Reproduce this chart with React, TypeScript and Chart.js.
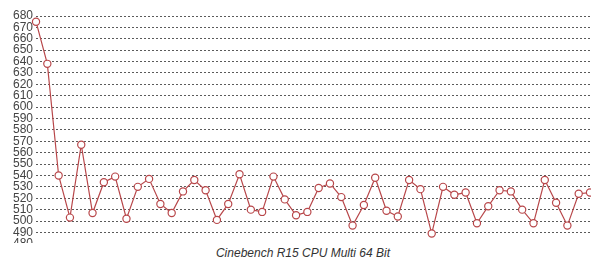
import React, { useEffect, useRef } from "react";
import { Chart, registerables } from "chart.js";

Chart.register(...registerables);

const runs: string[] = Array.from({ length: 50 }, (_, i) => String(i + 1));
const scores: number[] = [
  675, 638, 540, 503, 567, 507, 534, 539, 502, 530,
  537, 515, 507, 526, 536, 527, 501, 515, 541, 510,
  508, 539, 519, 505, 508, 529, 533, 521, 496, 514,
  538, 509, 504, 536, 528, 489, 530, 523, 525, 498,
  513, 527, 526, 510, 498, 536, 516, 496, 524, 525,
];
const yMin = 480;
const yMax = 680;
const yStep = 10;
const chartTitle = "Cinebench R15 CPU Multi 64 Bit";

export default function App() {
  const ref = useRef<HTMLCanvasElement | null>(null);
  useEffect(() => {
    if (!ref.current) return;
    const chart = new Chart(ref.current, {
      type: "line",
      data: {
        labels: runs,
        datasets: [
          {
            data: scores,
            borderColor: "#b8474a",
            borderWidth: 1.2,
            pointRadius: 3.6,
            pointBorderWidth: 1.2,
            pointBackgroundColor: "#ffffff",
            pointBorderColor: "#b8474a",
            tension: 0,
            clip: { left: 10, top: 10, right: 1, bottom: 10 } as any,
          },
        ],
      },
      options: {
        animation: false,
        responsive: true,
        maintainAspectRatio: false,
        layout: { padding: { left: 10, right: 10, top: 16, bottom: 0 } },
        plugins: { legend: { display: false }, tooltip: { enabled: false }, title: { display: false } },
        scales: {
          x: { display: false, offset: false },
          y: {
            min: yMin,
            max: yMax,
            ticks: {
              stepSize: yStep,
              autoSkip: false,
              color: "#444",
              padding: 3,
              font: { family: "'Liberation Sans', Arial, sans-serif", size: 12 },
            },
            grid: { color: "#5a5a5a", lineWidth: 1, drawTicks: false },
            border: { display: false, dash: [2, 2] },
          },
        },
      },
    });
    return () => chart.destroy();
  }, []);
  return (
    <div style={{ position: "absolute", left: 0, top: 0, width: 600, height: 265, background: "#fff" }}>
      <div style={{ position: "relative", width: 600, height: 243, overflow: "hidden" }}>
        <div style={{ position: "relative", width: 600, height: 254 }}>
          <canvas ref={ref} />
        </div>
      </div>
      <div
        style={{
          marginTop: 3,
          paddingLeft: 6,
          textAlign: "center",
          fontFamily: "'Liberation Sans', Arial, sans-serif",
          fontStyle: "italic",
          fontSize: 12,
          lineHeight: "14px",
          color: "#333",
        }}
      >
        {chartTitle}
      </div>
    </div>
  );
}
